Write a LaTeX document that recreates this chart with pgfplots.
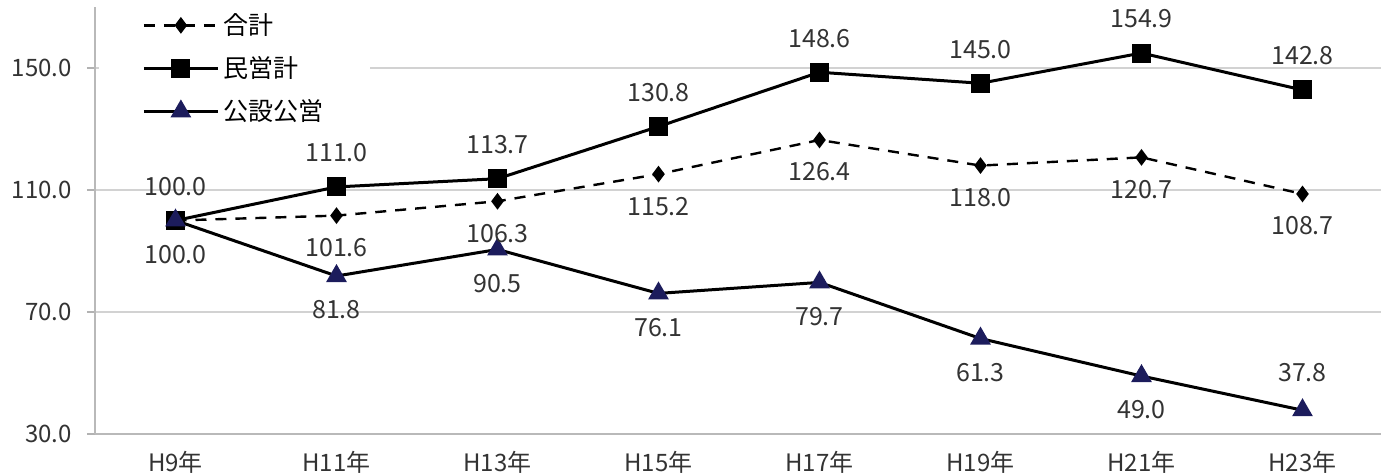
\documentclass[border=0pt]{standalone}
\usepackage{fontspec}
\setmainfont{Noto Sans CJK JP}
\usepackage{pgfplots}
\pgfplotsset{compat=1.18}
\usepackage{pgfplotstable}
\definecolor{navyt}{RGB}{28,28,92}

\pgfplotstableread{
x y l
0 100.0 100.0
1 101.6 101.6
2 106.3 106.3
3 115.2 115.2
4 126.4 126.4
5 118.0 118.0
6 120.7 120.7
7 108.7 108.7
}\goukei

\pgfplotstableread{
x y l
1 101.6 101.6
2 106.3 106.3
3 115.2 115.2
4 126.4 126.4
5 118.0 118.0
6 120.7 120.7
7 108.7 108.7
}\goukeiL

\pgfplotstableread{
x y l
0 100.0 100.0
1 111.0 111.0
2 113.7 113.7
3 130.8 130.8
4 148.6 148.6
5 145.0 145.0
6 154.9 154.9
7 142.8 142.8
}\minei

\pgfplotstableread{
x y l
0 100.0 100.0
1 81.8 81.8
2 90.5 90.5
3 76.1 76.1
4 79.7 79.7
5 61.3 61.3
6 49.0 49.0
7 37.8 37.8
}\kousetsu

\pgfplotstableread{
x y l
0 100.0 100.0
1 81.8 81.8
2 90.5 90.5
3 76.1 76.1
4 79.7 79.7
5 61.3 61.3
6 49.0 49.0
}\kousetsuB

\pgfplotstableread{
x y l
7 37.8 37.8
}\kousetsuA

\begin{document}
\begin{tikzpicture}
\useasboundingbox (0,0) rectangle (690.5pt,237.5pt);
\begin{axis}[
  at={(47.5pt,20.5pt)}, anchor=south west,
  scale only axis, width=644pt, height=213.5pt,
  xmin=-0.5, xmax=7.5, ymin=30, ymax=170,
  xtick={0,...,7},
  xticklabels={H9年,H11年,H13年,H15年,H17年,H19年,H21年,H23年},
  ytick={30,70,110,150},
  /pgf/number format/assume math mode=true,
  yticklabel style={/pgf/number format/fixed, /pgf/number format/fixed zerofill, /pgf/number format/precision=1, xshift=-4pt},
  ticklabel style={font=\fontsize{12}{14}\selectfont, text=black!80},
  xtick style={draw=none},
  ytick style={gray!60, line width=0.8pt},
  tick align=outside, major tick length=4pt,
  axis lines*=left,
  axis line style={-, gray!55, line width=1.3pt},
  ymajorgrids, grid style={gray!35, line width=0.9pt},
  xticklabel style={yshift=-1pt},
  legend style={draw=none, fill=white, at={(0,1)}, anchor=north west, yshift=3pt, xshift=2pt,
    font=\fontsize{12.5}{15}\selectfont, row sep=5.5pt, inner xsep=21.5pt, inner ysep=4pt,
    cells={anchor=west}},
  legend cell align=left,
  legend image code/.code={
    \draw[mark repeat=2,mark phase=2,#1] plot coordinates {(0cm,0cm) (0.65cm,0cm) (1.3cm,0cm)};
  },
  lbl/.style={draw=none, mark=none, forget plot, point meta=explicit symbolic,
    nodes near coords,
    every node near coord/.append style={anchor=center, yshift=#1,
      font=\fontsize{12.5}{15}\selectfont, text=black!80}},
]
\addplot[black, line width=1.2pt, dash pattern=on 5.5pt off 4.5pt,
  mark=diamond*, mark size=3.2pt, mark options={solid, fill=black}]
  table[x=x, y=y] {\goukei};
\addlegendentry{合計}
\addplot[black, line width=1.5pt, mark=square*, mark size=4pt, mark options={solid, fill=black}]
  table[x=x, y=y] {\minei};
\addlegendentry{民営計}
\addplot[black, line width=1.5pt, mark=triangle*, mark size=4.5pt,
  mark options={solid, fill=navyt, draw=navyt}]
  table[x=x, y=y] {\kousetsu};
\addlegendentry{公設公営}
\addplot[lbl=-16pt] table[x=x, y=y, meta=l] {\goukeiL};
\addplot[lbl=17pt] table[x=x, y=y, meta=l] {\minei};
\addplot[lbl=-17pt] table[x=x, y=y, meta=l] {\kousetsuB};
\addplot[lbl=19pt] table[x=x, y=y, meta=l] {\kousetsuA};
\end{axis}
\end{tikzpicture}
\end{document}
